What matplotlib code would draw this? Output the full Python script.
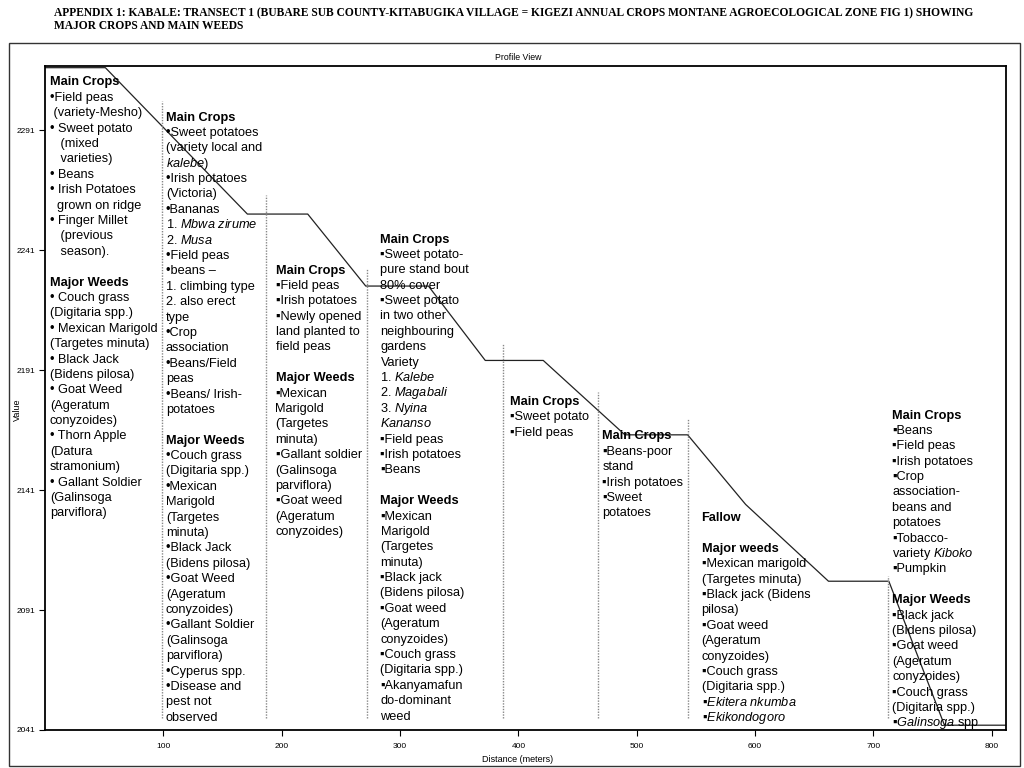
import matplotlib
matplotlib.use("Agg")
import matplotlib.pyplot as plt
from matplotlib.patches import Rectangle

plt.rcParams['font.family'] = ['Liberation Sans', 'DejaVu Sans']
plt.rcParams['mathtext.fontset'] = 'custom'
plt.rcParams['mathtext.rm'] = 'Liberation Sans'
plt.rcParams['mathtext.it'] = 'Liberation Sans:italic'
plt.rcParams['mathtext.bf'] = 'Liberation Sans:bold'

W, H = 1024, 768

# profile along the transect
distance = [0, 51, 171, 222, 271, 324, 372, 421, 490, 543, 592, 662, 713, 760, 812]
elevation = [2317, 2317, 2256, 2256, 2226, 2226, 2195, 2195, 2164, 2164, 2135, 2103, 2103, 2043, 2043]

# dotted zone boundaries
zone_x = [99, 187, 272, 387, 467, 543, 712]
zone_top = [2303, 2264, 2233, 2202, 2182, 2171, 2105]
zone_bottom = 2046

y_ticks = [2041, 2091, 2141, 2191, 2241, 2291]
x_ticks = [100, 200, 300, 400, 500, 600, 700, 800]

title_lines = ["APPENDIX 1: KABALE: TRANSECT 1 (BUBARE SUB COUNTY-KITABUGIKA VILLAGE = KIGEZI ANNUAL CROPS MONTANE AGROECOLOGICAL ZONE FIG 1) SHOWING",
               "MAJOR CROPS AND MAIN WEEDS"]

HEADERS = {"Main Crops", "Major Weeds", "Major weeds", "Fallow"}

# zone notes, _text_ = italic
zone1 = ["Main Crops", "•Field peas", " (variety-Mesho)", "• Sweet potato", "   (mixed",
         "   varieties)", "• Beans", "• Irish Potatoes", "  grown on ridge", "• Finger Millet",
         "   (previous", "   season).", "", "Major Weeds", "• Couch grass", "(Digitaria spp.)",
         "• Mexican Marigold", "(Targetes minuta)", "• Black Jack", "(Bidens pilosa)",
         "• Goat Weed", "(Ageratum", "conyzoides)", "• Thorn Apple", "(Datura",
         "stramonium)", "• Gallant Soldier", "(Galinsoga", "parviflora)"]
zone2 = ["Main Crops", "•Sweet potatoes", "(variety local and", "_kalebe)_", "•Irish potatoes",
         "(Victoria)", "•Bananas", "1. _Mbwa zirume_", "2. _Musa_", "•Field peas", "•beans –",
         "1. climbing type", "2. also erect", "type", "•Crop", "association", "•Beans/Field",
         "peas", "•Beans/ Irish-", "potatoes", "", "Major Weeds", "•Couch grass",
         "(Digitaria spp.)", "•Mexican", "Marigold", "(Targetes", "minuta)", "•Black Jack",
         "(Bidens pilosa)", "•Goat Weed", "(Ageratum", "conyzoides)", "•Gallant Soldier",
         "(Galinsoga", "parviflora)", "•Cyperus spp.", "•Disease and", "pest not", "observed"]
zone3 = ["Main Crops", "▪Field peas", "▪Irish potatoes", "▪Newly opened", "land planted to",
         "field peas", "", "Major Weeds", "▪Mexican", "Marigold", "(Targetes", "minuta)",
         "▪Gallant soldier", "(Galinsoga", "parviflora)", "▪Goat weed", "(Ageratum",
         "conyzoides)"]
zone4 = ["Main Crops", "▪Sweet potato-", "pure stand bout", "80% cover", "▪Sweet potato",
         "in two other", "neighbouring", "gardens", "Variety", "1. _Kalebe_", "2. _Magabali_",
         "3. _Nyina_", "_Kananso_", "▪Field peas", "▪Irish potatoes", "▪Beans", "",
         "Major Weeds", "▪Mexican", "Marigold", "(Targetes", "minuta)", "▪Black jack",
         "(Bidens pilosa)", "▪Goat weed", "(Ageratum", "conyzoides)", "▪Couch grass",
         "(Digitaria spp.)", "▪Akanyamafun", "do-dominant", "weed"]
zone5 = ["Main Crops", "▪Sweet potato", "▪Field peas"]
zone6 = ["Main Crops", "▪Beans-poor", "stand", "▪Irish potatoes", "▪Sweet", "potatoes"]
zone7 = ["Fallow", "", "Major weeds", "▪Mexican marigold", "(Targetes minuta)",
         "▪Black jack (Bidens", "pilosa)", "▪Goat weed", "(Ageratum", "conyzoides)",
         "▪Couch grass", "(Digitaria spp.)", "▪_Ekitera nkumba_", "▪_Ekikondogoro_"]
zone8 = ["Main Crops", "▪Beans", "▪Field peas", "▪Irish potatoes", "▪Crop", "association-",
         "beans and", "potatoes", "▪Tobacco-", "variety _Kiboko_", "▪Pumpkin", "",
         "Major Weeds", "▪Black jack", "(Bidens pilosa)", "▪Goat weed", "(Ageratum",
         "conyzoides)", "▪Couch grass", "(Digitaria spp.)", "▪_Galinsoga_ spp"]

# (left px, first baseline px)
blocks = [(zone1, 50, 85.5), (zone2, 166, 120.5), (zone3, 275.5, 273.5), (zone4, 380.5, 242.5),
          (zone5, 510, 405), (zone6, 602.5, 439.5), (zone7, 701.5, 521), (zone8, 892.5, 418.5)]
step = 15.39


def fx(x):
    return x / W


def fy(y):
    return 1 - y / H


def markup(s):
    parts = s.split("_")
    out = ""
    for i, p in enumerate(parts):
        if i % 2 == 1 and p:
            out += r"$\mathit{" + p.replace(" ", r"\ ") + "}$"
        else:
            out += p
    return out


fig = plt.figure(figsize=(W / 100, H / 100), dpi=100)

# outer frame
fig.patches.append(Rectangle((fx(9), fy(766)), (1020 - 9) / W, (766 - 43) / H,
                             transform=fig.transFigure, fill=False, edgecolor='#333333',
                             linewidth=1.0))

ax = fig.add_axes([fx(45), fy(730), (1006 - 45) / W, (730 - 66) / H])
ax.plot(distance, elevation, color='#222222', linewidth=0.9)
ax.vlines(zone_x, zone_bottom, zone_top, colors='#888888', linestyles=(0, (1, 1)),
          linewidth=1.0)
ax.set_xlim(0, 812)
ax.set_ylim(2041, 2317.7)
ax.set_xticks(x_ticks)
ax.set_yticks(y_ticks)
ax.tick_params(axis='both', direction='out', length=4, width=0.8, labelsize=6, pad=3)
ax.tick_params(axis='x', pad=5)
for s in ax.spines.values():
    s.set_linewidth(1.3)

fig.text(fx(518), fy(57), "Profile View", ha='center', va='center', fontsize=6.3)
fig.text(fx(518), fy(760), "Distance (meters)", ha='center', va='center', fontsize=6.5)
fig.text(fx(17), fy(410), "Value", ha='center', va='center', rotation=90, fontsize=6.5)

for lines, x0, y0 in blocks:
    for i, line in enumerate(lines):
        if not line:
            continue
        bold = line in HEADERS
        fig.text(fx(x0), fy(y0 + i * step), markup(line), ha='left', va='baseline',
                 fontsize=9.2, fontweight='bold' if bold else 'normal')

# title, fitted to its width in the reference
t1 = fig.text(fx(54), fy(13.5), title_lines[0], ha='left', va='center', fontsize=9,
              family='Liberation Serif', fontweight='bold')
t2 = fig.text(fx(54), fy(26), title_lines[1], ha='left', va='center', fontsize=9,
              family='Liberation Serif', fontweight='bold')
renderer = fig.canvas.get_renderer()
wd = t1.get_window_extent(renderer).width
fs = 9 * (978 - 54) / wd
t1.set_fontsize(fs)
t2.set_fontsize(fs)

fig.savefig("out.png", dpi=100)
